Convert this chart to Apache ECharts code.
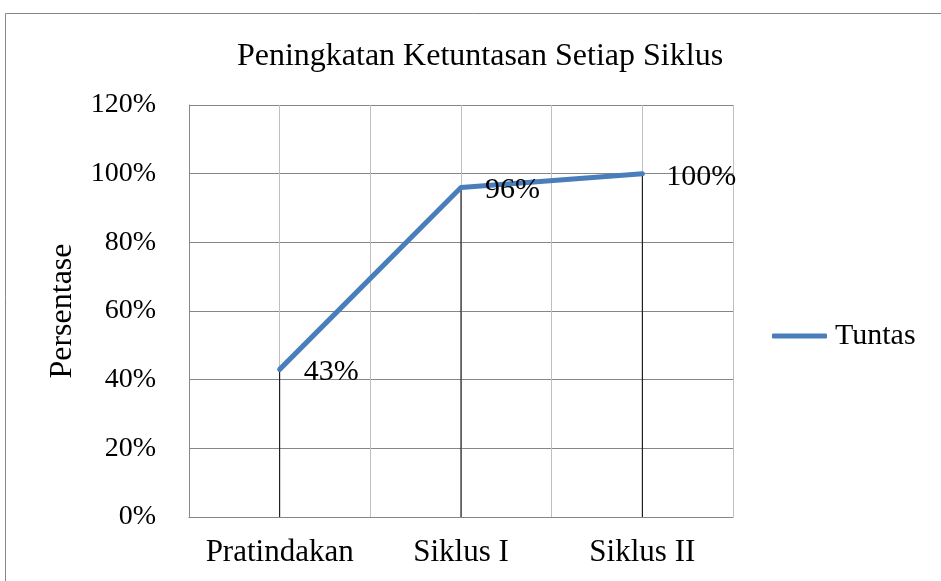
<!DOCTYPE html>
<html><head><meta charset="utf-8">
<script src="https://cdn.jsdelivr.net/npm/echarts@6/dist/echarts.min.js"></script>
<style>html,body{margin:0;padding:0;background:#fff}#c{width:941px;height:581px}</style>
</head><body><div id="c"></div>
<script>
const categories = ['Pratindakan', 'Siklus I', 'Siklus II'];
const tuntas = [43, 96, 100];
const seriesName = 'Tuntas';
const titleText = 'Peningkatan Ketuntasan Setiap Siklus';
const yAxisName = 'Persentase';

const font = '"Liberation Serif", "Times New Roman", serif';
const chart = echarts.init(document.getElementById('c'), null, {renderer: 'canvas'});
chart.setOption({
  backgroundColor: '#fff',
  animation: false,
  graphic: [{type: 'rect', shape: {x: 5.5, y: 13.5, width: 940, height: 580}, style: {fill: 'none', stroke: '#868686', lineWidth: 1}, silent: true}],
  title: {text: titleText, left: 475, top: 36, textAlign: 'center',
    textStyle: {fontFamily: font, fontSize: 32, fontWeight: 'normal', color: '#000'}},
  legend: {data: [{name: seriesName}], icon: 'roundRect', left: 767, top: 316, itemWidth: 55, itemHeight: 5, itemGap: 0,
    textStyle: {fontFamily: font, fontSize: 30, color: '#000', padding: [0, 0, 0, 3]}},
  grid: {left: 189, top: 105, width: 544, height: 412, containLabel: false},
  xAxis: [
    {type: 'category', data: categories, boundaryGap: true,
     axisLine: {lineStyle: {color: '#868686', width: 1}}, axisTick: {show: false},
     axisLabel: {interval: 0, hideOverlap: false, fontFamily: font, fontSize: 31, color: '#000', margin: 20},
     splitLine: {show: false}},
    {type: 'value', min: 0, max: 6, interval: 1, show: true, position: 'bottom',
     axisLine: {show: false}, axisTick: {show: false}, axisLabel: {show: false},
     splitLine: {show: true, lineStyle: {color: '#bfbfbf', width: 1}}}
  ],
  yAxis: {type: 'value', min: 0, max: 120, interval: 20,
    name: yAxisName, nameLocation: 'middle', nameGap: 110, nameRotate: 90,
    nameTextStyle: {fontFamily: font, fontSize: 32, color: '#000'},
    axisLine: {show: true, lineStyle: {color: '#868686', width: 1}}, axisTick: {show: false},
    axisLabel: {formatter: '{value}%', fontFamily: font, fontSize: 28, color: '#000', margin: 33},
    splitLine: {show: true, lineStyle: {color: '#868686', width: 1}}},
  series: [
    {type: 'bar', xAxisIndex: 0, data: tuntas, barWidth: 1, itemStyle: {color: '#000'}, silent: true, z: 2, legendHoverLink: false},
    {name: seriesName, type: 'line', xAxisIndex: 0, data: tuntas, showSymbol: true, symbol: 'circle', symbolSize: 2, z: 3,
     lineStyle: {color: '#4a7ebb', width: 5, cap: 'round', join: 'round'}, itemStyle: {color: '#4a7ebb'},
     label: {show: true, position: 'right', distance: 23, offset: [0, 3], formatter: '{c}%',
       fontFamily: font, fontSize: 30, color: '#000'}}
  ]
});
</script></body></html>
